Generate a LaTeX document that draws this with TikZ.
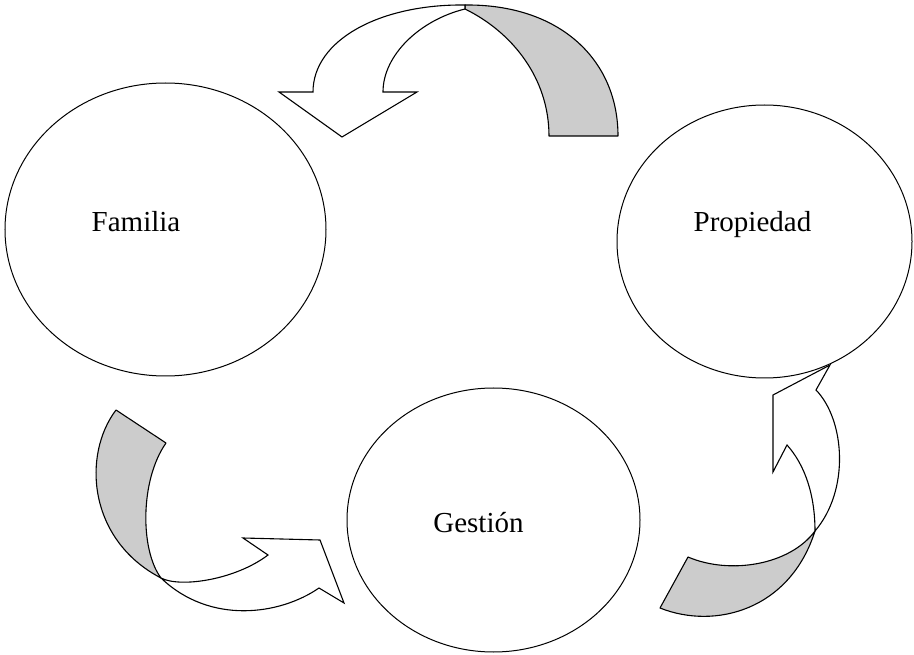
\documentclass[tikz,border=0pt]{standalone}
\usepackage{fontspec}
\setmainfont{Liberation Serif}
\usetikzlibrary{shapes.geometric}
\definecolor{bandgray}{HTML}{CCCCCC}
\tikzset{
  circ/.style={draw, ellipse, inner sep=0pt, line width=1pt},
  lbl/.style={anchor=base, inner sep=0pt, font=\fontsize{29}{34}\selectfont},
  backband/.style={fill=bandgray, draw, line width=1.1pt, line join=round},
  frontband/.style={fill=white, draw, line width=1.1pt, line join=miter},
}
\begin{document}
\begin{tikzpicture}[x=1pt, y=-1pt]
\useasboundingbox (0,0) rectangle (914,655);

% the three circles
\node[circ, minimum width=321pt, minimum height=293pt] (fam) at (165.5,229.5) {};
\node[circ, minimum width=295pt, minimum height=273pt] (prop) at (764.5,241.5) {};
\node[circ, minimum width=293pt, minimum height=264pt] (gest) at (493.5,520) {};

\node[lbl] (tfam) at (136,232) {Familia};
\node[lbl] (tprop) at (752.5,232) {Propiedad};
\node[lbl] (tgest) at (478.5,532) {Gestión};

% top curved arrow: Propiedad -> Familia
\coordinate (tA) at (465,5);
\path[backband] (tA) .. controls (560,4) and (618,60) .. (618,136)
  -- (549,136) .. controls (549,78) and (512,32) .. (465,9) -- cycle;
\path[frontband] (313,92) .. controls (313,40) and (380,4) .. (tA)
  -- (465,9) .. controls (420,20) and (383,55) .. (383,92)
  -- (417,92) -- (342,137) -- (279,92) -- cycle;

% lower-left curved arrow: Familia -> Gestión
\coordinate (lX) at (161,578);
\path[backband] (116,410) -- (166,443)
  .. controls (140,480) and (140,550) .. (lX)
  .. controls (88,540) and (82,455) .. (116,410) -- cycle;
\path[frontband] (lX) .. controls (180,588) and (235,580) .. (268,555)
  -- (243,538) -- (320,540) -- (344,603) -- (319,588)
  .. controls (280,615) and (210,625) .. (lX) -- cycle;

% lower-right curved arrow: Gestión -> Propiedad
\coordinate (rX) at (815,531);
\path[backband] (688,557) .. controls (730,575) and (790,565) .. (rX)
  .. controls (790,610) and (715,630) .. (660,608) -- cycle;
\path[frontband] (rX) .. controls (815,495) and (805,465) .. (787,445)
  -- (773,472) -- (773,395) -- (830,365) -- (816,390)
  .. controls (845,420) and (850,490) .. (rX) -- cycle;
\end{tikzpicture}
\end{document}
